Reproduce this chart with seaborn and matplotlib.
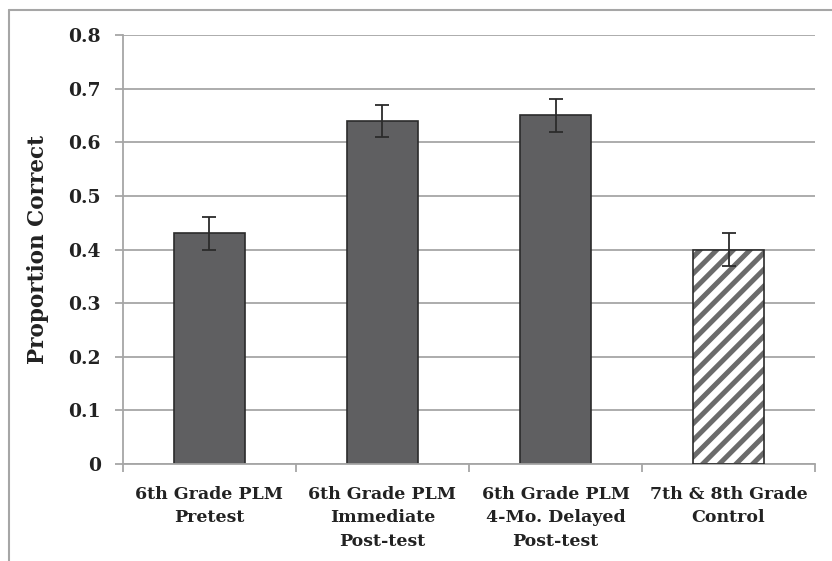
import matplotlib
matplotlib.use('Agg')
import matplotlib.pyplot as plt
import seaborn as sns
import pandas as pd
from matplotlib.patches import Rectangle
from matplotlib.lines import Line2D

groups = ['6th Grade PLM\nPretest',
          '6th Grade PLM\nImmediate\nPost-test',
          '6th Grade PLM\n4-Mo. Delayed\nPost-test',
          '7th & 8th Grade\nControl']
proportion = [0.43, 0.64, 0.65, 0.40]
err = [0.03, 0.03, 0.03, 0.03]
yticks = [0, 0.1, 0.2, 0.3, 0.4, 0.5, 0.6, 0.7, 0.8]
ytick_labels = ['0', '0.1', '0.2', '0.3', '0.4', '0.5', '0.6', '0.7', '0.8']

d = pd.DataFrame({'group': groups, 'prop': proportion})

sns.set_style('white')
plt.rcParams['font.family'] = ['DejaVu Serif']
plt.rcParams['font.weight'] = 'bold'
plt.rcParams['axes.labelweight'] = 'bold'
plt.rcParams['hatch.linewidth'] = 3.6

fig = plt.figure(figsize=(8.32, 5.61), dpi=100)
ax = fig.add_axes([0.1478, 0.1729, 0.8318, 0.7647])

sns.barplot(data=d, x='group', y='prop', color='#5f5f61', saturation=1,
            width=0.405, errorbar=None, edgecolor='#2b2b2b', linewidth=1.2,
            ax=ax, zorder=2)
ax.errorbar(x=list(range(len(groups))), y=proportion, yerr=err, fmt='none',
            ecolor='#2b2b2b', elinewidth=1.3, capsize=5, capthick=1.3, zorder=4)

# control bar: white with grey diagonal stripes
p = ax.patches[3]
p.set_facecolor('white')
p.set_edgecolor('#6b6b6b')
p.set_hatch('//')
p.set_linewidth(0)
ax.add_patch(Rectangle(p.get_xy(), p.get_width(), p.get_height(), fill=False,
                       edgecolor='#2b2b2b', linewidth=1.2, zorder=3))

ax.set_xlim(-0.5, 3.5)
ax.set_ylim(0, 0.8)
ax.set_yticks(yticks)
ax.set_yticklabels(ytick_labels)
ax.yaxis.grid(True, color='#a6a6a6', linewidth=1.3, zorder=0)
ax.set_axisbelow(True)
for s in ['top', 'right']:
    ax.spines[s].set_visible(False)
ax.spines['left'].set_color('#a6a6a6')
ax.spines['bottom'].set_color('#a6a6a6')
ax.spines['left'].set_linewidth(1.3)
ax.spines['bottom'].set_linewidth(1.3)

ax.tick_params(axis='y', left=True, length=6, width=1.3, color='#a6a6a6',
               labelsize=13.5, labelcolor='#222222', pad=10)
ax.tick_params(axis='x', bottom=False, labelsize=12.5, labelcolor='#222222', pad=12)
for lbl in ax.get_xticklabels():
    lbl.set_linespacing(1.5)
ax.set_xticks([-0.5, 0.5, 1.5, 2.5, 3.5], minor=True)
ax.tick_params(axis='x', which='minor', bottom=True, length=6, width=1.3,
               color='#a6a6a6')
ax.set_xlabel('')
ax.set_ylabel('Proportion Correct', fontsize=15.5, color='#222222', labelpad=14)

# outer frame (cropped)
fig.add_artist(Line2D([9 / 832, 1], [1 - 10 / 561, 1 - 10 / 561],
                      color='#a6a6a6', linewidth=1.5))
fig.add_artist(Line2D([9 / 832, 9 / 832], [0, 1 - 10 / 561],
                      color='#a6a6a6', linewidth=1.5))

plt.savefig('out.png', dpi=100)
